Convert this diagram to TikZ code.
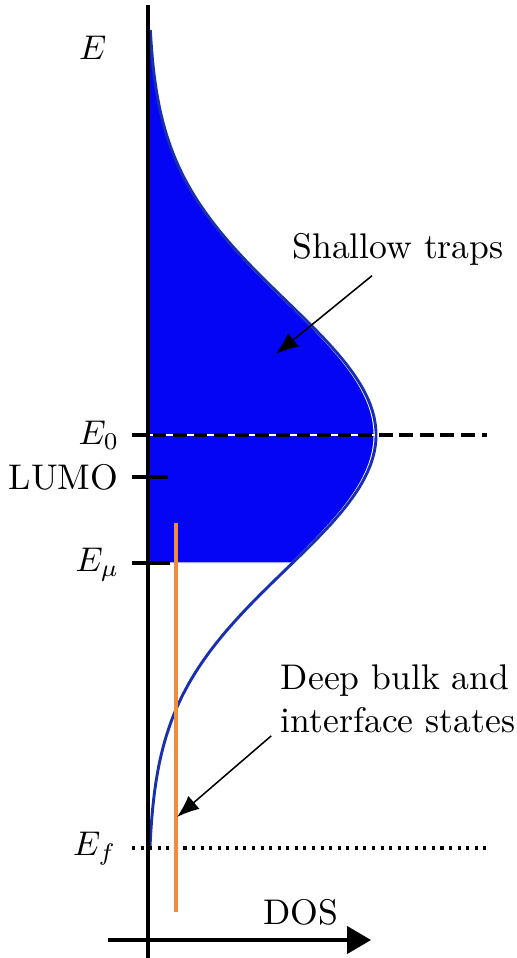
\documentclass[tikz,border=0pt]{standalone}
\usepackage{amsmath,amssymb}
\usepackage{xcolor}
\usepackage{tikz}
\usetikzlibrary{arrows.meta, positioning, calc}
\definecolor{dosFill}{HTML}{0505F5}
\definecolor{dosLine}{HTML}{1830B0}
\definecolor{dosOrange}{HTML}{F08C3C}
\tikzset{
  dosaxis/.style={line width=0.9pt},
  doslevel/.style={line width=0.9pt},
  doscurve/.style={draw=dosLine, line width=0.85pt},
  doslabel/.style={anchor=east, inner sep=0pt},
  dosnote/.style={align=left, inner sep=0pt},
  dosarrow/.style={-{Latex[length=6.5pt,width=5pt]}, line width=0.45pt},
}

\begin{document}
\begin{tikzpicture}[x=0.01025cm, y=-0.01025cm, every node/.style={font=\fontsize{10.4}{12.6}\selectfont}]
\useasboundingbox (0,0) rectangle (516,958);
% trap distribution
\fill[dosFill, draw=white, line width=0.3pt] (148,563) -- plot[variable=\t, domain=563:30, samples=120] ({148+226*exp(-0.5*((\t-435)/134)^2)}, \t) -- (148,30) -- cycle;
\draw[doscurve] plot[variable=\t, domain=30:848, samples=160] ({148+228*exp(-0.5*((\t-435)/134)^2)}, \t);

% levels
\node[doslabel] (lblE) at (107,48) {$E$};
\node[doslabel] (lblE0) at (120,435) {$E_0$};
\node[doslabel] (lblLumo) at (119,477) {LUMO};
\node[doslabel] (lblEmu) at (120,565) {$E_\mu$};
\node[doslabel] (lblEf) at (117,849) {$E_f$};
\draw[white, line width=0.4pt] (148,435) -- (375,435);
\draw[doslevel, dash pattern=on 4pt off 2pt] (132,435) -- (487,435);
\draw[doslevel] (132,477) -- (168,477);
\draw[doslevel] (132,563) -- (170,563);
\draw[doslevel, dash pattern=on 0.9pt off 1.6pt] (132,848) -- (487,848);

% axes
\draw[dosaxis] (148,5) -- (148,958);
\draw[dosaxis, -{Triangle[length=7pt,width=8pt]}] (108,940) -- (371,940);
\node (dos) at (301,912) {DOS};

% deep states
\draw[dosOrange, line width=0.9pt] (176,523) -- (176,912);
\coordinate (shallowtip) at (276,354);
\coordinate (deeptip) at (177,817);
\node[dosnote] (shallow) at (398,249) {Shallow traps};
\node[dosnote] (deep) at (398,699) {Deep bulk and\\interface states};
\draw[dosarrow] ($(shallow.south)+(-26,10)$) -- (shallowtip);
\draw[dosarrow] ($(deep.south west)+(-9,2)$) -- (deeptip);
\end{tikzpicture}
\end{document}
